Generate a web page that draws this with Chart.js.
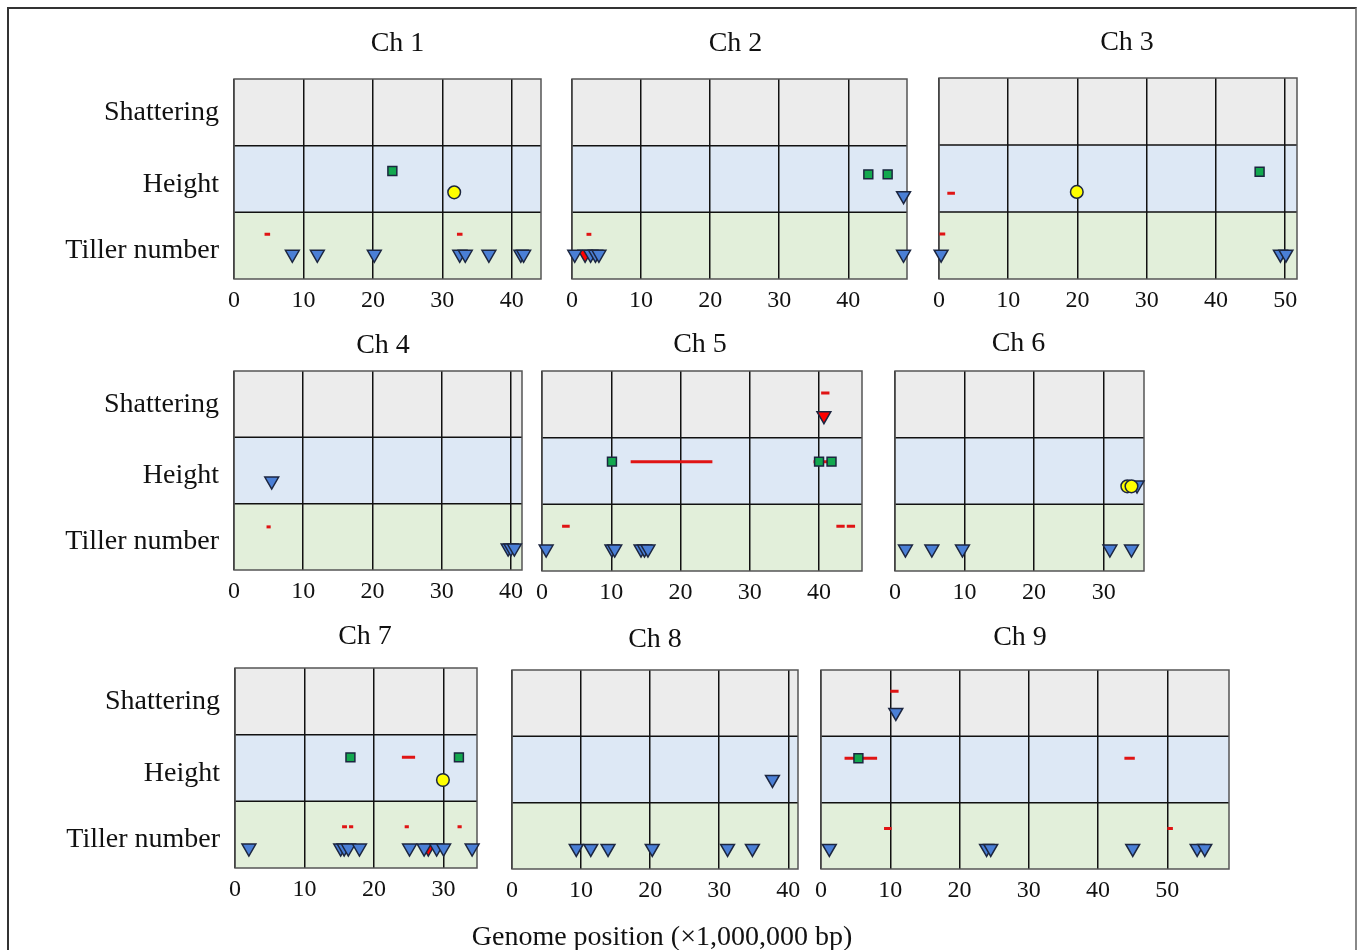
<!DOCTYPE html>
<html>
<head>
<meta charset="utf-8">
<title>Genome position of QTLs</title>
<script src="https://cdn.jsdelivr.net/npm/chart.js@4.4.1/dist/chart.umd.min.js"></script>
<style>
  html, body { margin: 0; padding: 0; background: #fff; overflow: hidden; }
  #page { position: relative; width: 1358px; height: 950px; }
  #frame { position: absolute; left: 7px; top: 7px; width: 1346px; height: 1000px;
           border-top: 2px solid #333; border-left: 2px solid #333; border-right: 2px solid #888; }
  canvas { position: absolute; }
</style>
</head>
<body>
<div id="page"><div id="frame"></div></div>
<script>
// chromosomes and their length (Mb)
const chromosomes = ['Ch 1', 'Ch 2', 'Ch 3', 'Ch 4', 'Ch 5', 'Ch 6', 'Ch 7', 'Ch 8', 'Ch 9'];
const chrLengths = [44.2, 48.5, 51.7, 41.6, 46.2, 35.8, 34.8, 41.4, 58.9];

// trait bands: 0-1 tiller number, 1-2 height, 2-3 shattering
const traits = ['Tiller number', 'Height', 'Shattering'];
const traitLabelAt = [0.42, 1.42, 2.5];
const xStep = 10;
const xAxisTitle = 'Genome position (\u00d71,000,000 bp)';

// [chromosome, position (Mb), y]
const blueTriangles = [
  [1, 8.4, 0.37], [1, 12.0, 0.37], [1, 20.2, 0.37], [1, 32.5, 0.37], [1, 33.3, 0.37],
  [1, 36.7, 0.37], [1, 41.3, 0.37], [1, 41.7, 0.37],
  [2, 0.4, 0.37], [2, 2.7, 0.37], [2, 3.4, 0.37], [2, 3.9, 0.37], [2, 48.0, 0.37], [2, 48.0, 1.25],
  [3, 0.3, 0.37], [3, 49.3, 0.37], [3, 50.1, 0.37],
  [4, 5.45, 1.34], [4, 39.6, 0.33], [4, 40.0, 0.33], [4, 40.5, 0.33],
  [5, 0.6, 0.33], [5, 10.1, 0.33], [5, 10.5, 0.33], [5, 14.3, 0.33], [5, 14.8, 0.33], [5, 15.3, 0.33],
  [6, 34.8, 1.29], [6, 1.5, 0.33], [6, 5.3, 0.33], [6, 9.7, 0.33], [6, 30.9, 0.33], [6, 34.0, 0.33],
  [7, 2.0, 0.30], [7, 15.2, 0.30], [7, 15.7, 0.30], [7, 16.3, 0.30], [7, 17.9, 0.30],
  [7, 25.1, 0.30], [7, 27.2, 0.30], [7, 29.0, 0.30], [7, 30.0, 0.30], [7, 34.1, 0.30],
  [8, 37.7, 1.35], [8, 9.3, 0.31], [8, 11.4, 0.31], [8, 13.9, 0.31], [8, 20.3, 0.31],
  [8, 31.2, 0.31], [8, 34.8, 0.31],
  [9, 10.8, 2.36], [9, 1.2, 0.31], [9, 23.9, 0.31], [9, 24.5, 0.31], [9, 45.0, 0.31],
  [9, 54.3, 0.31], [9, 55.4, 0.31]
];
const redTriangles = [[2, 1.9, 0.37], [5, 40.7, 2.33], [7, 27.8, 0.30]];
const greenSquares = [
  [1, 22.8, 1.62], [2, 42.9, 1.57], [2, 45.7, 1.57], [3, 46.3, 1.6],
  [5, 10.1, 1.64], [5, 40.0, 1.64], [5, 41.8, 1.64],
  [7, 16.6, 1.66], [7, 32.2, 1.66], [9, 5.4, 1.67]
];
const yellowCircles = [[1, 31.7, 1.3], [3, 19.9, 1.3], [6, 33.4, 1.27], [6, 34.0, 1.27], [7, 29.9, 1.32]];
// [chromosome, start, end, y]
const redIntervals = [
  [1, 4.4, 5.2, 0.67], [1, 32.1, 32.9, 0.67],
  [2, 2.1, 2.8, 0.67],
  [3, 1.2, 2.3, 1.28], [3, 0.05, 0.9, 0.67],
  [4, 4.7, 5.3, 0.65],
  [5, 40.3, 41.5, 2.67], [5, 12.8, 24.6, 1.64], [5, 39.2, 41.3, 1.64],
  [5, 2.9, 4.0, 0.67], [5, 42.5, 43.7, 0.67], [5, 44.0, 45.2, 0.67],
  [7, 24.0, 25.9, 1.66], [7, 15.4, 16.1, 0.62], [7, 16.4, 17.0, 0.62],
  [7, 24.4, 25.0, 0.62], [7, 32.0, 32.6, 0.62],
  [9, 10.0, 11.2, 2.68], [9, 3.4, 8.1, 1.67], [9, 43.8, 45.3, 1.67],
  [9, 9.1, 10.2, 0.61], [9, 50.0, 50.8, 0.61]
];

// page layout: plot area [left, top, right, bottom], title gap above plot, title x shift
const plotBoxes = [
  [234, 79, 541, 279, 35, 10], [572, 79, 907, 279, 35, -4], [939, 78, 1297, 279, 35, 9],
  [234, 371, 522, 570, 25, 5], [542, 371, 862, 571, 26, -2], [895, 371, 1144, 571, 27, -1],
  [235, 668, 477, 868, 31, 9], [512, 670, 798, 869, 30, 0], [821, 670, 1229, 869, 32, -5]
];
const bandColors = ['#e2efda', '#dde8f5', '#ececec'];
const serif = "'Liberation Serif', 'Times New Roman', serif";
const ink = '#111';

const bandPlugin = {
  id: 'bands',
  beforeDraw(chart) {
    const { ctx, chartArea: a, scales: { y } } = chart;
    ctx.save();
    bandColors.forEach((c, i) => {
      const top = y.getPixelForValue(i + 1), bot = y.getPixelForValue(i);
      ctx.fillStyle = c;
      ctx.fillRect(a.left, top, a.right - a.left, bot - top);
    });
    ctx.strokeStyle = ink;
    ctx.lineWidth = 1.5;
    [1, 2].forEach(v => {
      const py = y.getPixelForValue(v);
      ctx.beginPath();
      ctx.moveTo(a.left, py);
      ctx.lineTo(a.right, py);
      ctx.stroke();
    });
    ctx.restore();
  },
  beforeDatasetsDraw(chart) {
    const { ctx, chartArea: a } = chart;
    ctx.save();
    ctx.strokeStyle = '#555';
    ctx.lineWidth = 1.5;
    ctx.strokeRect(a.left, a.top, a.right - a.left, a.bottom - a.top);
    ctx.restore();
  }
};

function pick(arr, c) {
  return arr.filter(d => d[0] === c).map(d => ({ x: d[1], y: d[2] }));
}

function marker(data, style, color, radius) {
  return {
    data: data,
    pointStyle: style,
    rotation: style === 'triangle' ? 180 : 0,
    pointRadius: radius,
    backgroundColor: color,
    borderColor: '#1c2640',
    borderWidth: 1.5,
    clip: false,
    order: 1
  };
}

const page = document.getElementById('page');

chromosomes.forEach((name, i) => {
  const c = i + 1;
  const [l, t, r, b, gap, shift] = plotBoxes[i];
  const isLeft = i % 3 === 0;
  const hasAxisTitle = i === 7;
  let padL = isLeft ? 230 : 20;
  let padR = padL + 2 * shift;
  if (hasAxisTitle) { padL = 60; padR = 74; }
  const padT = 60, padB = 40;
  const subH = hasAxisTitle ? 48 : 0;
  const w = padL + (r - l) + padR, h = padT + (b - t) + padB + subH;

  const canvas = document.createElement('canvas');
  canvas.width = w;
  canvas.height = h;
  canvas.style.left = (l - padL) + 'px';
  canvas.style.top = (t - padT) + 'px';
  canvas.style.width = w + 'px';
  canvas.style.height = h + 'px';
  page.appendChild(canvas);

  const intervals = redIntervals.filter(d => d[0] === c)
    .flatMap(d => [{ x: d[1], y: d[3] }, { x: d[2], y: d[3] }, { x: d[2], y: null }]);

  const titleTop = 43.2 - gap;

  new Chart(canvas, {
    type: 'scatter',
    data: {
      datasets: [
        {
          data: intervals,
          showLine: true,
          spanGaps: false,
          borderColor: '#e01414',
          borderWidth: 3,
          pointRadius: 0,
          order: 5
        },
        marker(pick(greenSquares, c), 'rect', '#12a84e', 6.3),
        marker(pick(yellowCircles, c), 'circle', '#ffff00', 6.3),
        marker(pick(blueTriangles, c), 'triangle', '#4a7fd6', 8),
        marker(pick(redTriangles, c), 'triangle', '#ff0000', 8)
      ]
    },
    options: {
      responsive: false,
      animation: false,
      devicePixelRatio: 1,
      plugins: {
        legend: { display: false },
        tooltip: { enabled: false },
        title: {
          display: true,
          text: name,
          fullSize: !hasAxisTitle,
          color: ink,
          font: { family: serif, size: 28, weight: 'normal' },
          padding: { top: titleTop, bottom: 60 - 33.6 - titleTop }
        },
        subtitle: {
          display: hasAxisTitle,
          text: xAxisTitle,
          position: 'bottom',
          fullSize: true,
          color: ink,
          font: { family: serif, size: 28, weight: 'normal' },
          padding: { top: 12.2, bottom: 2.2 }
        }
      },
      scales: {
        x: {
          type: 'linear',
          min: 0,
          max: chrLengths[i],
          afterFit(s) { s.height = padB; },
          ticks: {
            stepSize: xStep,
            includeBounds: false,
            autoSkip: false,
            maxRotation: 0,
            padding: 7,
            color: ink,
            font: { family: serif, size: 24 }
          },
          grid: { color: ink, lineWidth: 1.5, drawTicks: false },
          border: { display: false }
        },
        y: {
          min: 0,
          max: 3,
          afterFit(s) { s.width = padL; },
          afterBuildTicks(s) { s.ticks = traitLabelAt.map(v => ({ value: v })); },
          ticks: {
            display: isLeft,
            autoSkip: false,
            padding: 15,
            color: ink,
            font: { family: serif, size: 28 },
            callback: (v, idx) => traits[idx]
          },
          grid: { display: false, drawTicks: false },
          border: { display: false }
        },
        yr: {
          position: 'right',
          min: 0,
          max: 3,
          afterFit(s) { s.width = padR; },
          ticks: { display: false },
          grid: { display: false, drawTicks: false },
          border: { display: false }
        }
      }
    },
    plugins: [bandPlugin]
  });
});
</script>
</body>
</html>
